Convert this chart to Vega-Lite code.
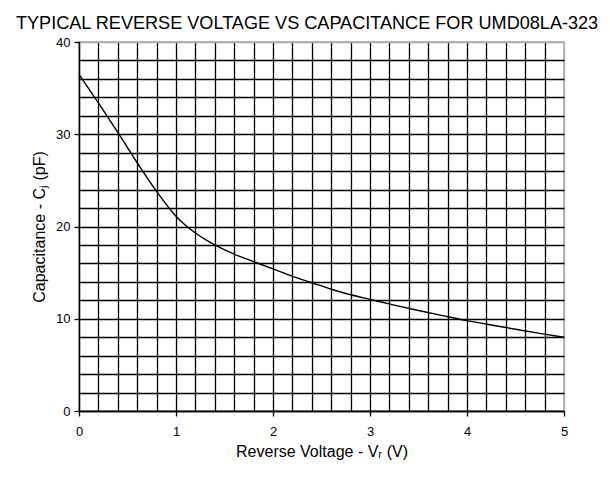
{
  "$schema": "https://vega.github.io/schema/vega-lite/v6.json",
  "width": 485,
  "height": 369,
  "autosize": {"type": "none"},
  "padding": {"left": 79, "top": 42, "right": 46, "bottom": 66},
  "background": "white",
  "title": {
    "text": "TYPICAL REVERSE VOLTAGE VS CAPACITANCE FOR UMD08LA-323",
    "font": "Liberation Sans",
    "fontSize": 18.1,
    "fontWeight": "normal",
    "color": "black",
    "anchor": "start",
    "frame": "group",
    "dx": -63,
    "dy": 17,
    "offset": 6,
    "baseline": "alphabetic"
  },
  "config": {
    "view": {"stroke": "#aaaaaa", "strokeWidth": 1.5},
    "axis": {
      "labelFont": "Liberation Sans",
      "titleFont": "Liberation Sans",
      "labelColor": "black",
      "titleColor": "black",
      "domainColor": "black",
      "domainWidth": 1.3,
      "tickColor": "black",
      "tickWidth": 1.3,
      "gridWidth": 1.3,
      "labelOverlap": false,
      "labelFlush": false
    }
  },
  "data": {
    "values": [
      {"v": 0, "c": 36.5},
      {"v": 0.2, "c": 33.4},
      {"v": 0.4, "c": 30.2},
      {"v": 0.6, "c": 26.9},
      {"v": 0.8, "c": 23.8},
      {"v": 1.0, "c": 21.1},
      {"v": 1.1, "c": 20.1},
      {"v": 1.2, "c": 19.3},
      {"v": 1.3, "c": 18.6},
      {"v": 1.4, "c": 18.0},
      {"v": 1.6, "c": 17.0},
      {"v": 1.8, "c": 16.2},
      {"v": 2.0, "c": 15.4},
      {"v": 2.2, "c": 14.6},
      {"v": 2.4, "c": 13.9},
      {"v": 2.6, "c": 13.2},
      {"v": 2.8, "c": 12.6},
      {"v": 3.0, "c": 12.1},
      {"v": 3.25, "c": 11.48},
      {"v": 3.5, "c": 10.9},
      {"v": 3.75, "c": 10.34},
      {"v": 4.0, "c": 9.8},
      {"v": 4.25, "c": 9.32},
      {"v": 4.5, "c": 8.86},
      {"v": 4.75, "c": 8.42},
      {"v": 5.0, "c": 8.0}
    ]
  },
  "mark": {"type": "line", "color": "black", "strokeWidth": 1.4, "interpolate": "monotone"},
  "encoding": {
    "x": {
      "field": "v",
      "type": "quantitative",
      "scale": {"domain": [0, 5], "nice": false, "zero": false},
      "axis": {
        "title": "Reverse Voltage - Vᵣ (V)",
        "titleFontSize": 16,
        "titleFontWeight": "normal",
        "titlePadding": 5,
        "labelFontSize": 13,
        "labelPadding": 9,
        "tickSize": 5,
        "values": [0, 0.2, 0.4, 0.6, 0.8, 1, 1.2, 1.4, 1.6, 1.8, 2, 2.2, 2.4, 2.6, 2.8, 3, 3.2, 3.4, 3.6, 3.8, 4, 4.2, 4.4, 4.6, 4.8, 5],
        "labelExpr": "abs(datum.value - round(datum.value)) < 0.001 ? format(datum.value, 'd') : ''",
        "tickOpacity": {"condition": {"test": "abs(datum.value - round(datum.value)) < 0.001", "value": 1}, "value": 0},
        "grid": true,
        "gridColor": {"condition": {"test": "datum.value > 4.99", "value": "#aaaaaa"}, "value": "black"}
      }
    },
    "y": {
      "field": "c",
      "type": "quantitative",
      "scale": {"domain": [0, 40], "nice": false},
      "axis": {
        "title": "Capacitance - Cⱼ (pF)",
        "titleFontSize": 16,
        "titleFontWeight": "normal",
        "titlePadding": 8,
        "labelFontSize": 13,
        "labelPadding": 4,
        "tickSize": 5,
        "values": [0, 2, 4, 6, 8, 10, 12, 14, 16, 18, 20, 22, 24, 26, 28, 30, 32, 34, 36, 38, 40],
        "labelExpr": "datum.value % 10 == 0 ? format(datum.value, 'd') : ''",
        "tickOpacity": {"condition": {"test": "datum.value % 10 == 0", "value": 1}, "value": 0},
        "grid": true,
        "gridColor": {"condition": {"test": "datum.value > 39.9", "value": "#aaaaaa"}, "value": "black"}
      }
    }
  }
}
